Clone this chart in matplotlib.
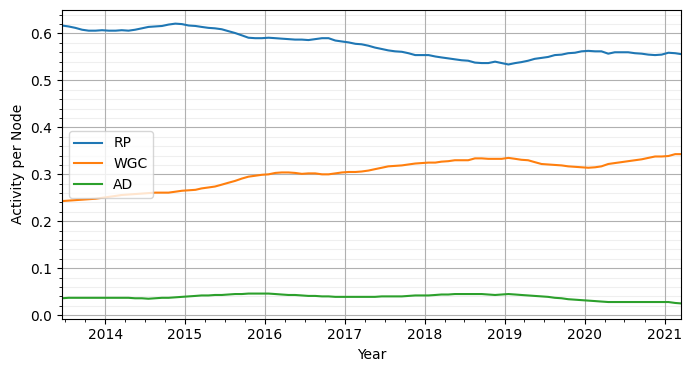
import numpy as np
import pandas as pd
import matplotlib
matplotlib.use("Agg")
import matplotlib.pyplot as plt
import matplotlib.dates as mdates
from matplotlib.ticker import MultipleLocator

# monthly samples, 2013-06 .. 2021-03
months = pd.period_range("2013-06", "2021-03", freq="M")

rp = [
    0.617, 0.615, 0.612, 0.608, 0.606, 0.606, 0.607,
    0.606, 0.606, 0.607, 0.606, 0.608, 0.611, 0.614, 0.615, 0.616, 0.619, 0.621, 0.620,
    0.617, 0.616, 0.614, 0.612, 0.611, 0.609, 0.605, 0.601, 0.596, 0.591, 0.590, 0.590,
    0.591, 0.590, 0.589, 0.588, 0.587, 0.587, 0.586, 0.588, 0.590, 0.590, 0.585, 0.583,
    0.581, 0.578, 0.577, 0.574, 0.570, 0.567, 0.564, 0.562, 0.561, 0.558, 0.554, 0.554,
    0.554, 0.551, 0.549, 0.547, 0.545, 0.543, 0.542, 0.538, 0.537, 0.537, 0.540, 0.537,
    0.534, 0.537, 0.539, 0.542, 0.546, 0.548, 0.550, 0.554, 0.555, 0.558, 0.559, 0.562,
    0.563, 0.562, 0.562, 0.557, 0.560, 0.560, 0.560, 0.558, 0.557, 0.555, 0.554, 0.555,
    0.559, 0.558, 0.556,
]

wgc = [
    0.243, 0.244, 0.245, 0.246, 0.247, 0.248, 0.250,
    0.252, 0.254, 0.256, 0.257, 0.258, 0.259, 0.260, 0.261, 0.261, 0.261, 0.263, 0.265,
    0.266, 0.267, 0.270, 0.272, 0.274, 0.278, 0.282, 0.286, 0.291, 0.295, 0.297, 0.299,
    0.300, 0.303, 0.304, 0.304, 0.303, 0.301, 0.302, 0.302, 0.300, 0.300, 0.302, 0.304,
    0.305, 0.305, 0.306, 0.308, 0.311, 0.314, 0.317, 0.318, 0.319, 0.321, 0.323, 0.324,
    0.325, 0.325, 0.327, 0.328, 0.330, 0.330, 0.330, 0.334, 0.334, 0.333, 0.333, 0.333,
    0.335, 0.333, 0.331, 0.330, 0.326, 0.322, 0.321, 0.320, 0.319, 0.317, 0.316, 0.315,
    0.314, 0.315, 0.317, 0.322, 0.324, 0.326, 0.328, 0.330, 0.332, 0.335, 0.338, 0.338,
    0.339, 0.343, 0.343,
]

ad = [
    0.036, 0.037, 0.037, 0.037, 0.037, 0.037, 0.037,
    0.037, 0.037, 0.037, 0.037, 0.036, 0.036, 0.035, 0.036, 0.037, 0.037, 0.038, 0.039,
    0.040, 0.041, 0.042, 0.042, 0.043, 0.043, 0.044, 0.045, 0.045, 0.046, 0.046, 0.046,
    0.046, 0.045, 0.044, 0.043, 0.043, 0.042, 0.041, 0.041, 0.040, 0.040, 0.039, 0.039,
    0.039, 0.039, 0.039, 0.039, 0.039, 0.040, 0.040, 0.040, 0.040, 0.041, 0.042, 0.042,
    0.042, 0.043, 0.044, 0.044, 0.045, 0.045, 0.045, 0.045, 0.045, 0.044, 0.043, 0.044,
    0.045, 0.044, 0.043, 0.042, 0.041, 0.040, 0.039, 0.037, 0.036, 0.034, 0.033, 0.032,
    0.031, 0.030, 0.029, 0.028, 0.028, 0.028, 0.028, 0.028, 0.028, 0.028, 0.028, 0.028,
    0.028, 0.026, 0.025,
]

dates = months.to_timestamp() + pd.Timedelta(days=17)

fig = plt.figure(figsize=(6.91, 3.71), dpi=100)
ax = fig.add_axes([0.0897, 0.141, 0.8963, 0.832])

ax.plot(dates, rp, label="RP", color="#1f77b4")
ax.plot(dates, wgc, label="WGC", color="#ff7f0e")
ax.plot(dates, ad, label="AD", color="#2ca02c")

ax.set_xlim(dates[0], dates[-1])
ax.set_ylim(-0.0075, 0.65)

ax.xaxis.set_major_locator(mdates.YearLocator())
ax.xaxis.set_major_formatter(mdates.DateFormatter("%Y"))
ax.xaxis.set_minor_locator(mdates.MonthLocator(bymonth=[1, 4, 7, 10]))
ax.yaxis.set_major_locator(MultipleLocator(0.1))
ax.yaxis.set_minor_locator(MultipleLocator(0.02))

ax.grid(True, which="major", color="#b0b0b0", linewidth=0.8)
ax.grid(True, which="minor", axis="y", color="#b0b0b0", alpha=0.2, linewidth=0.8)

ax.set_xlabel("Year")
ax.set_ylabel("Activity per Node")
ax.legend(loc="center left")

fig.savefig("out.png", dpi=100)
